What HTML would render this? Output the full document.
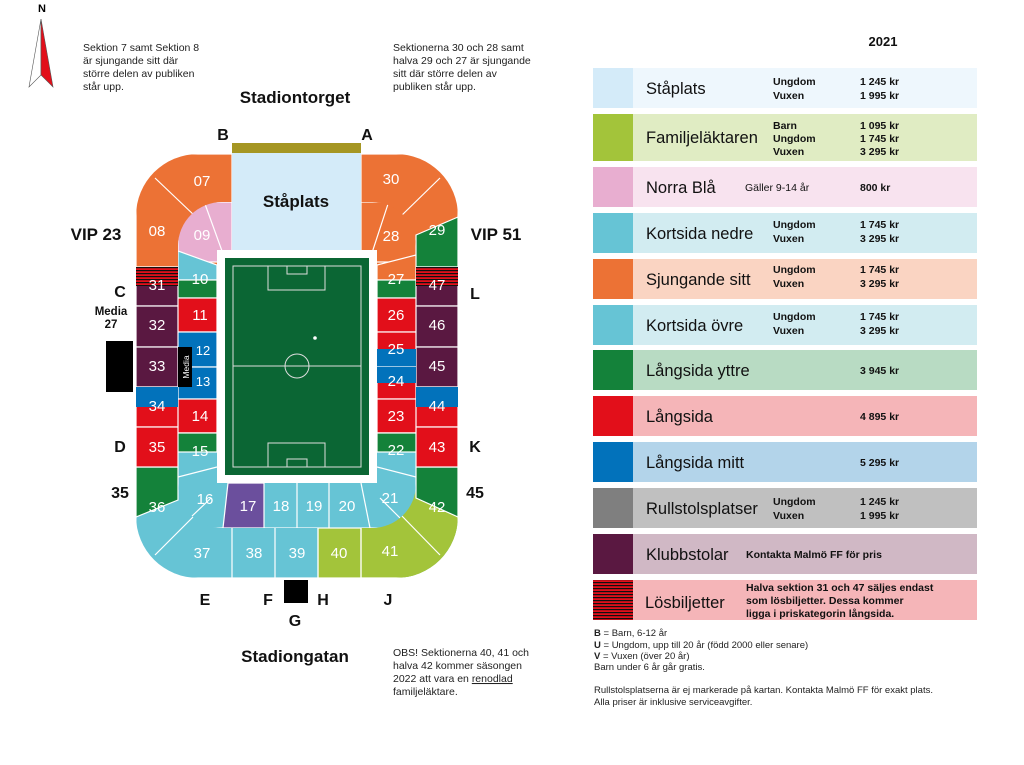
<!DOCTYPE html>
<html><head><meta charset="utf-8"><style>
html,body{margin:0;padding:0;background:#fff;}
svg{display:block;font-family:"Liberation Sans","DejaVu Sans",sans-serif;}
</style></head><body>
<svg width="1024" height="765" viewBox="0 0 1024 765" xmlns="http://www.w3.org/2000/svg">
<defs>
<clipPath id="outer"><rect x="136" y="154" width="322" height="424" rx="62"/></clipPath>
<clipPath id="inner"><rect x="178" y="202" width="238" height="326" rx="44"/></clipPath>
<pattern id="hatch" width="4" height="3" patternUnits="userSpaceOnUse"><rect width="4" height="3" fill="#e20f1a"/><rect width="4" height="1.2" fill="#111"/></pattern>
</defs>
<!-- compass -->
<text x="42" y="12" font-size="11" text-anchor="middle" font-weight="bold">N</text>
<polygon points="41,19 29,87 41,75" fill="#fff" stroke="#555" stroke-width="0.6"/>
<polygon points="41,19 53,87 41,75" fill="#e20f1a" stroke="#555" stroke-width="0.6"/>
<!-- notes -->
<g font-size="10.5" fill="#222">
<text x="83" y="51">Sektion 7 samt Sektion 8</text>
<text x="83" y="64">är sjungande sitt där</text>
<text x="83" y="77">större delen av publiken</text>
<text x="83" y="90">står upp.</text>
<text x="393" y="51">Sektionerna 30 och 28 samt</text>
<text x="393" y="64">halva 29 och 27 är sjungande</text>
<text x="393" y="77">sitt där större delen av</text>
<text x="393" y="90">publiken står upp.</text>
<text x="393" y="656">OBS! Sektionerna 40, 41 och</text>
<text x="393" y="669">halva 42 kommer säsongen</text>
<text x="393" y="682">2022 att vara en <tspan text-decoration="underline">renodlad</tspan></text>
<text x="393" y="695">familjeläktare.</text>
</g>
<g font-weight="bold" fill="#111">
<text x="295" y="103" font-size="17" text-anchor="middle">Stadiontorget</text>
<text x="295" y="662" font-size="17" text-anchor="middle">Stadiongatan</text>
<text x="223" y="140" font-size="16" text-anchor="middle">B</text>
<text x="367" y="140" font-size="16" text-anchor="middle">A</text>
<text x="96" y="240" font-size="17" text-anchor="middle">VIP 23</text>
<text x="496" y="240" font-size="17" text-anchor="middle">VIP 51</text>
<text x="120" y="297" font-size="16" text-anchor="middle">C</text>
<text x="475" y="299" font-size="16" text-anchor="middle">L</text>
<text x="111" y="315" font-size="11.5" text-anchor="middle">Media</text>
<text x="111" y="328" font-size="11.5" text-anchor="middle">27</text>
<text x="120" y="452" font-size="16" text-anchor="middle">D</text>
<text x="475" y="452" font-size="16" text-anchor="middle">K</text>
<text x="120" y="498" font-size="16" text-anchor="middle">35</text>
<text x="475" y="498" font-size="16" text-anchor="middle">45</text>
<text x="205" y="605" font-size="16" text-anchor="middle">E</text>
<text x="268" y="605" font-size="16" text-anchor="middle">F</text>
<text x="323" y="605" font-size="16" text-anchor="middle">H</text>
<text x="388" y="605" font-size="16" text-anchor="middle">J</text>
<text x="295" y="626" font-size="16" text-anchor="middle">G</text>
</g>
<rect x="232" y="143" width="129" height="10" fill="#a59623"/>
<!-- outer ring -->
<g clip-path="url(#outer)" stroke="#fff" stroke-width="1.2">
<rect x="136" y="154" width="96" height="113" fill="#ec7235"/>
<rect x="361" y="154" width="97" height="113" fill="#ec7235"/>
<polygon points="416,235 458,217 458,267 416,267" fill="#14823a"/>
<rect x="232" y="153" width="129" height="100" fill="#d4ebf9" stroke="none"/>
<rect x="136" y="467" width="322" height="111" fill="#66c4d5"/>
<rect x="318" y="528" width="140" height="50" fill="#a3c43a"/>
<polygon points="361,467 458,467 458,578 361,578" fill="#a3c43a"/>
<polygon points="136,467 178,467 178,500 136,517" fill="#14823a"/>
<polygon points="416,467 458,467 458,517 416,498" fill="#14823a"/>
<rect x="136" y="267" width="42" height="39" fill="#5a1841"/>
<rect x="136" y="267" width="42" height="19" fill="url(#hatch)" stroke="none"/>
<rect x="136" y="306" width="42" height="41" fill="#5a1841"/>
<rect x="136" y="347" width="42" height="40" fill="#5a1841"/>
<rect x="136" y="387" width="42" height="40" fill="#e20f1a"/>
<rect x="136" y="387" width="42" height="20" fill="#0272bb" stroke="none"/>
<rect x="136" y="427" width="42" height="40" fill="#e20f1a"/>
<rect x="416" y="267" width="42" height="39" fill="#5a1841"/>
<rect x="416" y="267" width="42" height="19" fill="url(#hatch)" stroke="none"/>
<rect x="416" y="306" width="42" height="41" fill="#5a1841"/>
<rect x="416" y="347" width="42" height="40" fill="#5a1841"/>
<rect x="416" y="387" width="42" height="40" fill="#e20f1a"/>
<rect x="416" y="387" width="42" height="20" fill="#0272bb" stroke="none"/>
<rect x="416" y="427" width="42" height="40" fill="#e20f1a"/>
<line x1="232" y1="528" x2="232" y2="578"/><line x1="275" y1="528" x2="275" y2="578"/>
<line x1="318" y1="528" x2="318" y2="578"/><line x1="361" y1="528" x2="361" y2="578"/>
<line x1="155" y1="555" x2="196" y2="514"/><line x1="440" y1="555" x2="400" y2="514"/>
<line x1="155" y1="178" x2="196" y2="217"/><line x1="440" y1="178" x2="400" y2="217"/>
</g>
<!-- inner ring -->
<g clip-path="url(#inner)" stroke="#fff" stroke-width="1.2">
<rect x="178" y="202" width="54" height="60" fill="#e8aed0"/>
<rect x="361" y="202" width="55" height="60" fill="#ec7235"/>
<polygon points="178,251 217,265 217,280 178,280" fill="#66c4d5"/>
<rect x="178" y="280" width="39" height="18" fill="#14823a"/>
<polygon points="377,265 416,255 416,280 377,280" fill="#ec7235"/>
<rect x="377" y="280" width="39" height="18" fill="#14823a"/>
<rect x="178" y="298" width="39" height="34" fill="#e20f1a"/>
<rect x="178" y="332" width="39" height="35" fill="#0272bb"/>
<rect x="178" y="367" width="39" height="32" fill="#0272bb"/>
<rect x="178" y="399" width="39" height="34" fill="#e20f1a"/>
<rect x="377" y="298" width="39" height="34" fill="#e20f1a"/>
<rect x="377" y="332" width="39" height="35" fill="#e20f1a"/>
<rect x="377" y="349" width="39" height="18" fill="#0272bb" stroke="none"/>
<rect x="377" y="367" width="39" height="32" fill="#e20f1a"/>
<rect x="377" y="367" width="39" height="16" fill="#0272bb" stroke="none"/>
<rect x="377" y="399" width="39" height="34" fill="#e20f1a"/>
<rect x="178" y="433" width="238" height="95" fill="#66c4d5"/>
<rect x="178" y="433" width="39" height="19" fill="#14823a"/>
<rect x="377" y="433" width="39" height="19" fill="#14823a"/>
<line x1="178" y1="477" x2="217" y2="467"/><line x1="416" y1="477" x2="377" y2="467"/>
<polygon points="228,483 264,483 264,528 223,528" fill="#6b4f9d"/>
<line x1="297" y1="483" x2="297" y2="528"/><line x1="329" y1="483" x2="329" y2="528"/>
<line x1="361" y1="483" x2="370" y2="528"/>
<line x1="190" y1="518" x2="211" y2="498"/><line x1="400" y1="518" x2="380" y2="498"/>
<line x1="205" y1="204" x2="226" y2="262"/><line x1="388" y1="204" x2="369" y2="262"/>
</g>
<rect x="232" y="153" width="129" height="97" fill="#d4ebf9"/>
<text x="296" y="207" font-size="17" font-weight="bold" text-anchor="middle" fill="#111">Ståplats</text>
<!-- field -->
<rect x="217" y="250" width="160" height="233" fill="#fff"/>
<rect x="225" y="258" width="144" height="217" fill="#0b6634"/>
<g fill="none" stroke="#ddd" stroke-width="1">
<rect x="233" y="266" width="128" height="201"/>
<line x1="233" y1="366" x2="361" y2="366"/>
<circle cx="297" cy="366" r="12"/>
<rect x="268" y="266" width="57" height="24"/><rect x="287" y="266" width="20" height="8"/>
<rect x="268" y="443" width="57" height="24"/><rect x="287" y="459" width="20" height="8"/>
</g>
<circle cx="315" cy="338" r="1.8" fill="#fff"/>
<rect x="106" y="341" width="27" height="51" fill="#000"/>
<rect x="178" y="347" width="14" height="40" fill="#000"/>
<text transform="translate(189,367) rotate(-90)" font-size="8.5" fill="#fff" text-anchor="middle">Media</text>
<rect x="284" y="580" width="24" height="23" fill="#000"/>
<g font-size="15" fill="#fff" text-anchor="middle">
<text x="202" y="186">07</text><text x="157" y="236">08</text><text x="202" y="240">09</text>
<text x="391" y="184">30</text><text x="437" y="235">29</text><text x="391" y="241">28</text>
<text x="200" y="284">10</text><text x="396" y="284">27</text>
<text x="157" y="290">31</text><text x="437" y="290">47</text>
<text x="157" y="330">32</text><text x="200" y="320">11</text><text x="396" y="320">26</text><text x="437" y="330">46</text>
<text x="157" y="371">33</text><text x="203" y="355" font-size="13">12</text><text x="203" y="386" font-size="13">13</text>
<text x="396" y="354">25</text><text x="396" y="386">24</text><text x="437" y="371">45</text>
<text x="157" y="411">34</text><text x="200" y="421">14</text><text x="396" y="421">23</text><text x="437" y="411">44</text>
<text x="157" y="452">35</text><text x="200" y="456">15</text><text x="396" y="455">22</text><text x="437" y="452">43</text>
<text x="157" y="512">36</text><text x="205" y="504">16</text><text x="248" y="511">17</text>
<text x="281" y="511">18</text><text x="314" y="511">19</text><text x="347" y="511">20</text>
<text x="390" y="503">21</text><text x="437" y="512">42</text>
<text x="202" y="558">37</text><text x="254" y="558">38</text><text x="297" y="558">39</text>
<text x="339" y="558">40</text><text x="390" y="556">41</text>
</g>
<!-- legend -->
<text x="883" y="46" font-size="13" font-weight="bold" text-anchor="middle" fill="#111">2021</text>
<g font-size="16.5" fill="#111">
<rect x="593" y="68" width="40" height="40" fill="#d4ebf9"/><rect x="633" y="68" width="344" height="40" fill="#eef7fd"/>
<text x="646" y="94">Ståplats</text>
<rect x="593" y="114" width="40" height="47" fill="#a3c43a"/><rect x="633" y="114" width="344" height="47" fill="#e0ecc3"/>
<text x="646" y="143">Familjeläktaren</text>
<rect x="593" y="167" width="40" height="40" fill="#e8aed0"/><rect x="633" y="167" width="344" height="40" fill="#f8e3ef"/>
<text x="646" y="193">Norra Blå</text>
<rect x="593" y="213" width="40" height="40" fill="#66c4d5"/><rect x="633" y="213" width="344" height="40" fill="#d2ecf1"/>
<text x="646" y="239">Kortsida nedre</text>
<rect x="593" y="259" width="40" height="40" fill="#ec7235"/><rect x="633" y="259" width="344" height="40" fill="#fad4c2"/>
<text x="646" y="285">Sjungande sitt</text>
<rect x="593" y="305" width="40" height="40" fill="#66c4d5"/><rect x="633" y="305" width="344" height="40" fill="#d2ecf1"/>
<text x="646" y="331">Kortsida övre</text>
<rect x="593" y="350" width="40" height="40" fill="#14823a"/><rect x="633" y="350" width="344" height="40" fill="#b8dbc3"/>
<text x="646" y="376">Långsida yttre</text>
<rect x="593" y="396" width="40" height="40" fill="#e20f1a"/><rect x="633" y="396" width="344" height="40" fill="#f5b5b8"/>
<text x="646" y="422">Långsida</text>
<rect x="593" y="442" width="40" height="40" fill="#0272bb"/><rect x="633" y="442" width="344" height="40" fill="#b3d4ea"/>
<text x="646" y="468">Långsida mitt</text>
<rect x="593" y="488" width="40" height="40" fill="#7f7f7f"/><rect x="633" y="488" width="344" height="40" fill="#c0c0c0"/>
<text x="646" y="514">Rullstolsplatser</text>
<rect x="593" y="534" width="40" height="40" fill="#5a1841"/><rect x="633" y="534" width="344" height="40" fill="#d0b8c5"/>
<text x="646" y="560">Klubbstolar</text>
<rect x="593" y="580" width="40" height="40" fill="url(#hatch)"/><rect x="633" y="580" width="344" height="40" fill="#f5b5b8"/>
<text x="645" y="608">Lösbiljetter</text>
</g>
<g font-size="10.5" font-weight="bold" fill="#111">
<text x="773" y="85">Ungdom</text><text x="773" y="99">Vuxen</text>
<text x="860" y="85">1 245 kr</text><text x="860" y="99">1 995 kr</text>
<text x="773" y="129">Barn</text><text x="773" y="142">Ungdom</text><text x="773" y="155">Vuxen</text>
<text x="860" y="129">1 095 kr</text><text x="860" y="142">1 745 kr</text><text x="860" y="155">3 295 kr</text>
<text x="745" y="191" font-weight="normal">Gäller 9-14 år</text><text x="860" y="191">800 kr</text>
<text x="773" y="228">Ungdom</text><text x="773" y="242">Vuxen</text>
<text x="860" y="228">1 745 kr</text><text x="860" y="242">3 295 kr</text>
<text x="773" y="273">Ungdom</text><text x="773" y="287">Vuxen</text>
<text x="860" y="273">1 745 kr</text><text x="860" y="287">3 295 kr</text>
<text x="773" y="320">Ungdom</text><text x="773" y="334">Vuxen</text>
<text x="860" y="320">1 745 kr</text><text x="860" y="334">3 295 kr</text>
<text x="860" y="374">3 945 kr</text>
<text x="860" y="420">4 895 kr</text>
<text x="860" y="466">5 295 kr</text>
<text x="773" y="505">Ungdom</text><text x="773" y="519">Vuxen</text>
<text x="860" y="505">1 245 kr</text><text x="860" y="519">1 995 kr</text>
<text x="746" y="558">Kontakta Malmö FF för pris</text>
<text x="746" y="591">Halva sektion 31 och 47 säljes endast</text>
<text x="746" y="604">som lösbiljetter. Dessa kommer</text>
<text x="746" y="617">ligga i priskategorin långsida.</text>
</g>
<g font-size="9.5" fill="#222">
<text x="594" y="636"><tspan font-weight="bold">B</tspan> = Barn, 6-12 år</text>
<text x="594" y="648"><tspan font-weight="bold">U</tspan> = Ungdom, upp till 20 år (född 2000 eller senare)</text>
<text x="594" y="659"><tspan font-weight="bold">V</tspan> = Vuxen (över 20 år)</text>
<text x="594" y="670">Barn under 6 år går gratis.</text>
<text x="594" y="693">Rullstolsplatserna är ej markerade på kartan. Kontakta Malmö FF för exakt plats.</text>
<text x="594" y="705">Alla priser är inklusive serviceavgifter.</text>
</g>
</svg>
</body></html>
